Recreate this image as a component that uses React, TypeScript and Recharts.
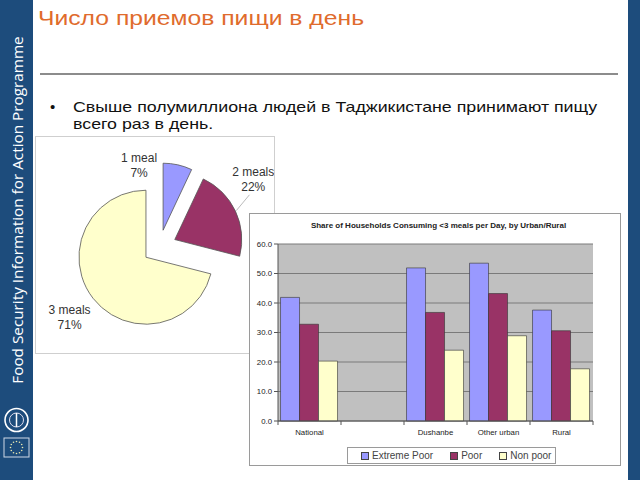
import React from "react";
import { PieChart, Pie, Cell, BarChart, Bar, XAxis, YAxis, CartesianGrid } from "recharts";

// ---------- data ----------
const mealLabels = ["1 meal", "2 meals", "3 meals"];
const mealShares = [7, 22, 71];
const mealColors = ["#9999ff", "#993366", "#ffffcc"];

const categories = ["National", "", "Dushanbe", "Other urban", "Rural"];
const extremePoor = [41.9, null, 51.9, 53.5, 37.6];
const poor = [32.8, null, 36.8, 43.2, 30.6];
const nonPoor = [20.3, null, 24.0, 28.9, 17.7];
const seriesNames = ["Extreme Poor", "Poor", "Non poor"];
const seriesColors = ["#9999ff", "#993366", "#ffffcc"];
const yTicks = [0, 10, 20, 30, 40, 50, 60];

const slideTitle = "Число приемов пищи в день";
const bulletLine1 = "Свыше полумиллиона людей в Таджикистане принимают пищу";
const bulletLine2 = "всего раз в день.";
const sideText = "Food Security Information for Action Programme";
const barTitle = "Share of Households Consuming <3 meals per Day, by Urban/Rural";

// ---------- derived ----------
const mealData = mealLabels.map((name, i) => ({ name, value: mealShares[i] }));
const barData = categories.map((c, i) => ({
  category: c,
  ep: extremePoor[i],
  p: poor[i],
  np: nonPoor[i],
}));
const seriesKeys = ["ep", "p", "np"];

// pie layout
const PIE_CX = 123.4;
const PIE_CY = 109.8;
const PIE_R = 67;
const EXPLODE = 17;
const RAD = Math.PI / 180;
const total = mealShares.reduce((a, b) => a + b, 0);
let acc = 0;
const mids = mealShares.map((v) => {
  const m = 90 - ((acc + v / 2) / total) * 360;
  acc += v;
  return m;
});
const offsets = mids.map((m) => ({ dx: EXPLODE * Math.cos(m * RAD), dy: -EXPLODE * Math.sin(m * RAD) }));
const labelPolar = [
  { r: 84, a: 104 },
  { r: 116, a: 36 },
  { r: 114, a: -142 },
];

const SIDEBAR = "#1d4c7c";
const FONT = "'Liberation Sans', Arial, sans-serif";

function renderPieLabel(props: any, which: number) {
  if (props.index !== which) return null;
  const lp = labelPolar[which];
  const x = PIE_CX + lp.r * Math.cos(lp.a * RAD);
  const y = PIE_CY - lp.r * Math.sin(lp.a * RAD);
  const pct = Math.round((mealShares[which] / total) * 100) + "%";
  const elems: any[] = [];
  if (which === 1) {
    const sx = props.cx + (props.outerRadius + 1) * Math.cos(props.midAngle * RAD);
    const sy = props.cy - (props.outerRadius + 1) * Math.sin(props.midAngle * RAD);
    const ex = PIE_CX + 104 * Math.cos(30 * RAD);
    const ey = PIE_CY - 104 * Math.sin(30 * RAD);
    elems.push(<line key="l" x1={sx} y1={sy} x2={ex} y2={ey} stroke="#bbb" strokeWidth={1} />);
  }
  elems.push(
    <text key="t" x={x} y={y - 3} textAnchor="middle" fontSize={12} fill="#333" fontFamily={FONT}>
      <tspan x={x} dy={0}>{mealLabels[which]}</tspan>
      <tspan x={x} dy={15}>{pct}</tspan>
    </text>
  );
  return <g>{elems}</g>;
}

const XTick = (props: any) => {
  const { x, y, payload, index } = props;
  const half = payload && typeof payload.offset === "number" && payload.offset > 0 ? payload.offset : 31.5;
  return (
    <g>
      <line x1={x - half} x2={x - half} y1={y - 4} y2={y} stroke="#555" strokeWidth={1} />
      {index === categories.length - 1 ? (
        <line x1={x + half} x2={x + half} y1={y - 4} y2={y} stroke="#555" strokeWidth={1} />
      ) : null}
      <text x={x} y={y + 10} textAnchor="middle" fontSize={7.8} fill="#222" fontFamily={FONT}>
        {payload.value}
      </text>
    </g>
  );
};

export default function App() {
  return (
    <div
      style={{
        position: "absolute",
        left: 0,
        top: 0,
        width: 640,
        height: 480,
        overflow: "hidden",
        background: "#fff",
        fontFamily: FONT,
      }}
    >
      {/* left sidebar */}
      <div style={{ position: "absolute", left: 0, top: 0, width: 33, height: 480, background: SIDEBAR }} />
      <div
        style={{
          position: "absolute",
          left: 17,
          top: 210,
          transform: "translate(-50%, -50%) rotate(-90deg)",
          whiteSpace: "nowrap",
          color: "#fff",
          fontFamily: "'Open Sans', sans-serif",
          fontSize: 15.3,
        }}
      >
        {sideText}
      </div>
      <svg style={{ position: "absolute", left: 0, top: 400 }} width={33} height={70}>
        <circle cx={16.5} cy={20} r={11.5} fill="none" stroke="#fff" strokeWidth={1.6} />
        <circle cx={16.5} cy={20} r={7} fill="none" stroke="#dde" strokeWidth={1} />
        <line x1={16.5} y1={13} x2={16.5} y2={27} stroke="#fff" strokeWidth={1.5} />
        <rect x={4} y={38} width={25} height={19} fill={SIDEBAR} stroke="#cfd8e6" strokeWidth={1} />
        {Array.from({ length: 12 }).map((_, k) => (
          <circle
            key={k}
            cx={16.5 + 6 * Math.cos((k * 30 * Math.PI) / 180)}
            cy={47.5 + 6 * Math.sin((k * 30 * Math.PI) / 180)}
            r={0.8}
            fill="#e8e8b0"
          />
        ))}
      </svg>
      {/* right strip */}
      <div style={{ position: "absolute", left: 628, top: 0, width: 12, height: 480, background: SIDEBAR }} />

      {/* title */}
      <div
        style={{
          position: "absolute",
          left: 38,
          top: 5,
          fontSize: 21,
          color: "#e06b2d",
          whiteSpace: "nowrap",
          lineHeight: "26px",
          transform: "scaleX(1.176)",
          transformOrigin: "left top",
        }}
      >
        {slideTitle}
      </div>
      <div style={{ position: "absolute", left: 40, top: 73, width: 578, height: 2, background: "#8c8c8c" }} />

      {/* bullet */}
      <div style={{ position: "absolute", left: 50, top: 98, fontSize: 15, color: "#111", lineHeight: "17px" }}>
        •
      </div>
      <div
        style={{
          position: "absolute",
          left: 73,
          top: 98,
          fontSize: 15,
          color: "#111",
          lineHeight: "17px",
          whiteSpace: "nowrap",
          transform: "scaleX(1.185)",
          transformOrigin: "left top",
        }}
      >
        {bulletLine1}
        <br />
        {bulletLine2}
      </div>

      {/* pie box */}
      <div
        style={{
          position: "absolute",
          left: 35,
          top: 136,
          width: 240,
          height: 218,
          boxSizing: "border-box",
          border: "1px solid #cfcfcf",
          background: "#fff",
        }}
      >
        <PieChart width={238} height={216} margin={{ top: 0, right: 0, bottom: 0, left: 0 }}>
          {mealLabels.map((_, which) => (
            <Pie
              key={which}
              data={mealData}
              dataKey="value"
              nameKey="name"
              cx={PIE_CX + offsets[which].dx}
              cy={PIE_CY + offsets[which].dy}
              outerRadius={PIE_R}
              innerRadius={0}
              startAngle={90}
              endAngle={-270}
              isAnimationActive={false}
              labelLine={false}
              label={(p: any) => renderPieLabel(p, which)}
            >
              {mealData.map((_, k) => (
                <Cell
                  key={k}
                  fill={k === which ? mealColors[k] : "none"}
                  stroke={k === which ? "#555" : "none"}
                  strokeWidth={0.8}
                />
              ))}
            </Pie>
          ))}
        </PieChart>
      </div>

      {/* bar chart box */}
      <div
        style={{
          position: "absolute",
          left: 249,
          top: 213,
          width: 372,
          height: 253,
          boxSizing: "border-box",
          border: "1px solid #9a9a9a",
          background: "#fff",
        }}
      >
        <div
          style={{
            position: "absolute",
            left: 0,
            top: 7,
            width: 370,
            textAlign: "center",
            fontSize: 8,
            fontWeight: "bold",
            color: "#222",
            whiteSpace: "nowrap",
            paddingLeft: 7,
            boxSizing: "border-box",
          }}
        >
          {barTitle}
        </div>
        <BarChart
          width={370}
          height={251}
          data={barData}
          margin={{ top: 30, right: 27, left: 2, bottom: 20 }}
          barCategoryGap="4%"
          barGap={0}
        >
          <CartesianGrid vertical={false} stroke="#7a7a7a" fill="#c0c0c0" fillOpacity={1} />
          <XAxis
            dataKey="category"
            interval={0}
            height={24}
            tickSize={4}
            tickMargin={0}
            tickLine={false}
            axisLine={{ stroke: "#555" }}
            tick={<XTick />}
          />
          <YAxis
            width={26}
            domain={[0, 60]}
            ticks={yTicks}
            interval={0}
            tickSize={4}
            tickMargin={2}
            axisLine={{ stroke: "#555" }}
            tickLine={{ stroke: "#555" }}
            tick={{ fontSize: 7.8, fill: "#222", fontFamily: FONT }}
            tickFormatter={(v: number) => v.toFixed(1)}
          />
          {seriesKeys.map((k, i) => (
            <Bar
              key={k}
              dataKey={k}
              name={seriesNames[i]}
              fill={seriesColors[i]}
              stroke="#333"
              strokeWidth={0.6}
              isAnimationActive={false}
            />
          ))}
        </BarChart>
        {/* legend */}
        <div
          style={{
            position: "absolute",
            left: 97,
            top: 233,
            width: 209,
            height: 17,
            boxSizing: "border-box",
            border: "1px solid #9a9a9a",
            display: "flex",
            alignItems: "center",
            paddingLeft: 13,
            fontSize: 10,
            color: "#444",
            whiteSpace: "nowrap",
          }}
        >
          {seriesNames.map((n, i) => (
            <div key={n} style={{ display: "flex", alignItems: "center", marginRight: 17 }}>
              <div
                style={{
                  width: 6,
                  height: 6,
                  background: seriesColors[i],
                  border: "1px solid #444",
                  marginRight: 3,
                }}
              />
              <span>{n}</span>
            </div>
          ))}
        </div>
      </div>
    </div>
  );
}
